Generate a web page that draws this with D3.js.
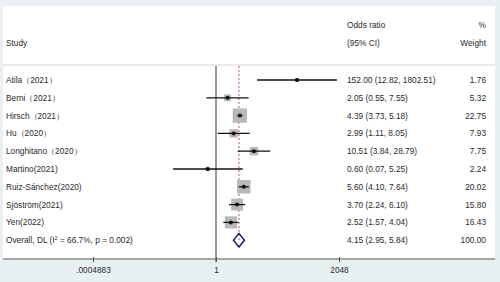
<!DOCTYPE html>
<html><head><meta charset="utf-8">
<script src="https://cdn.jsdelivr.net/npm/d3@7"></script>
<style>
html,body{margin:0;padding:0;background:#e8f0f2;}
svg{display:block;}
text{font-family:"Liberation Sans",Arial,sans-serif;fill:#2a2a2a;}
</style></head>
<body>
<svg id="c" width="500" height="282"></svg>
<script>
const studies = ["Atila\uFF082021\uFF09","Berni\uFF082021\uFF09","Hirsch\uFF082021\uFF09","Hu\uFF082020\uFF09","Longhitano\uFF082020\uFF09","Martino(2021)","Ruiz-S\u00e1nchez(2020)","Sj\u00f6str\u00f6m(2021)","Yen(2022)"];
const oddsRatio = [152.00, 2.05, 4.39, 2.99, 10.51, 0.60, 5.60, 3.70, 2.52];
const ciLow = [12.82, 0.55, 3.73, 1.11, 3.84, 0.07, 4.10, 2.24, 1.57];
const ciHigh = [1802.51, 7.55, 5.18, 8.05, 28.79, 5.25, 7.64, 6.10, 4.04];
const weights = [1.76, 5.32, 22.75, 7.93, 7.75, 2.24, 20.02, 15.80, 16.43];
const overall = {label:"Overall, DL", i2:"66.7%", p:"0.002", or:4.15, lo:2.95, hi:5.84, w:100.00};
const tickValues = [Math.pow(2,-11), 1, 2048];
const tickLabels = [".0004883", "1", "2048"];

const svg = d3.select("#c");
const fs = 8.3;
// white panel
svg.append("rect").attr("x",3).attr("y",6).attr("width",492).attr("height",253).attr("fill","#fff");

const x = d3.scaleLog().base(2).domain([Math.pow(2,-11), 2048]).range([93, 339]);
const rowY = d3.scaleLinear().domain([0, 9]).range([80, 240.2]);

// header
svg.append("text").attr("x",6).attr("y",46).attr("font-size",fs).text("Study");
svg.append("text").attr("x",347).attr("y",28).attr("font-size",fs).text("Odds ratio");
svg.append("text").attr("x",347).attr("y",46).attr("font-size",fs).text("(95% CI)");
svg.append("text").attr("x",486).attr("y",28).attr("font-size",fs).attr("text-anchor","end").text("%");
svg.append("text").attr("x",486).attr("y",46).attr("font-size",fs).attr("text-anchor","end").text("Weight");
svg.append("line").attr("x1",3).attr("x2",495).attr("y1",65).attr("y2",65).attr("stroke","#d4d4d4").attr("stroke-width",1);

// null line at 1
svg.append("line").attr("x1",x(1)).attr("x2",x(1)).attr("y1",66).attr("y2",262).attr("stroke","#555").attr("stroke-width",1.2);
// overall dashed line
svg.append("line").attr("x1",x(overall.or)).attr("x2",x(overall.or)).attr("y1",66).attr("y2",rowY(9))
  .attr("stroke","#a04848").attr("stroke-width",0.9).attr("stroke-dasharray","2,2");

const k = 3.0;
const g = svg.append("g");
studies.forEach((s,i)=>{
  const y = rowY(i);
  const side = k*Math.sqrt(weights[i]);
  g.append("rect").attr("x",x(oddsRatio[i])-side/2).attr("y",y-side/2).attr("width",side).attr("height",side).attr("fill","#b9b9b9");
  g.append("line").attr("x1",x(ciLow[i])).attr("x2",x(ciHigh[i])).attr("y1",y).attr("y2",y).attr("stroke","#111").attr("stroke-width",1.3);
  g.append("circle").attr("cx",x(oddsRatio[i])).attr("cy",y).attr("r",2).attr("fill","#111");
  svg.append("text").attr("x",6).attr("y",y+3).attr("font-size",fs).text(s);
  svg.append("text").attr("x",347).attr("y",y+3).attr("font-size",fs)
    .text(oddsRatio[i].toFixed(2)+" ("+ciLow[i].toFixed(2)+", "+ciHigh[i].toFixed(2)+")");
  svg.append("text").attr("x",486).attr("y",y+3).attr("font-size",fs).attr("text-anchor","end").text(weights[i].toFixed(2));
});

// overall
const yo = rowY(9);
const h = 6.8;
svg.append("path")
  .attr("d",`M${x(overall.lo)},${yo} L${x(overall.or)},${yo-h} L${x(overall.hi)},${yo} L${x(overall.or)},${yo+h} Z`)
  .attr("fill","none").attr("stroke","#1c1c78").attr("stroke-width",1.5);
const ot = svg.append("text").attr("x",6).attr("y",yo+3).attr("font-size",fs);
ot.append("tspan").text(overall.label+" (I");
ot.append("tspan").attr("font-size",5.5).attr("dy",-3.5).text("2");
ot.append("tspan").attr("dy",3.5).text(" = "+overall.i2+", p = "+overall.p+")");
svg.append("text").attr("x",347).attr("y",yo+3).attr("font-size",fs)
  .text(overall.or.toFixed(2)+" ("+overall.lo.toFixed(2)+", "+overall.hi.toFixed(2)+")");
svg.append("text").attr("x",486).attr("y",yo+3).attr("font-size",fs).attr("text-anchor","end").text(overall.w.toFixed(2));

// axis
const axisY = 259;
svg.append("line").attr("x1",3).attr("x2",495).attr("y1",axisY).attr("y2",axisY).attr("stroke","#555").attr("stroke-width",1.1);
const axis = d3.axisBottom(x).tickValues(tickValues).tickFormat((d,i)=>tickLabels[i]).tickSize(3).tickPadding(5);
const ag = svg.append("g").attr("transform",`translate(0,${axisY})`).call(axis);
ag.select(".domain").remove();
ag.selectAll(".tick line").attr("stroke","#555").attr("y1",-2);
ag.selectAll(".tick text").attr("font-size",fs).attr("font-family","Liberation Sans, Arial, sans-serif").attr("fill","#2a2a2a");
</script>
</body></html>
